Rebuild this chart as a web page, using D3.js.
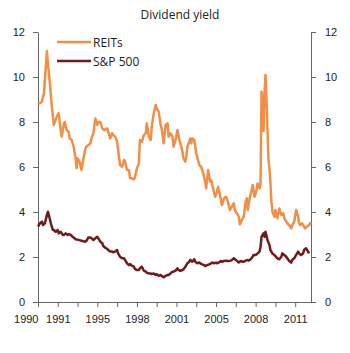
<!DOCTYPE html>
<html lang="en">
<head>
  <meta charset="UTF-8" />
  <title>Dividend yield</title>
  <script src="https://d3js.org/d3.v7.min.js"></script>
  <style>
    body { margin: 0; padding: 0; background: #fff; }
    svg { font-family: "Open Sans", sans-serif; }
    .axis text { font-size: 11px; fill: #222; }
    .axis path, .axis line { stroke: #666; }
  </style>
</head>
<body>
  <svg width="350" height="353"></svg>
  <script>
    // months since Jan 1990, dividend yield in percent
    const reitMonths = [0,4,5,6,9,10,12,14,16,17,19,21,22,24,26,27,29,31,32,34,36,38,39,40,42,44,46,48,49,51,53,54,56,58,60,61,63,65,67,70,71,73,75,76,78,80,81,83,85,87,88,90,92,93,95,97,98,100,102,103,105,107,109,110,112,114,115,117,119,120,122,124,125,127,129,131,132,134,136,137,139,141,143,145,146,147,149,150,151,154,155,156,158,160,163,165,167,169,170,172,174,175,177,179,181,182,184,186,188,190,192,194,196,198,199,201,203,204,207,208,210,211,212,214,216,217,219,221,222,224,225,226,227,228,229,230,231,232,233,234,235,236,237,239,240,242,244,246,248,249,251,252,254,256,257,259,261,263,264,265,267,269,270,272,274,275,276];
    const reitValues = [8.79,8.9,9.12,9.27,11.15,10.6,9.72,8.68,7.87,8.0,8.24,8.39,7.94,7.35,7.87,8.0,7.64,7.57,7.27,7.2,6.9,6.39,5.94,6.39,6.24,5.87,6.39,6.83,6.9,6.98,7.05,7.27,7.5,8.16,7.87,8.0,8.0,7.72,7.64,7.72,7.57,7.27,7.5,7.42,7.35,7.12,6.76,6.09,6.01,6.31,6.24,5.87,5.87,5.5,5.5,5.45,5.54,5.94,6.16,7.2,7.12,7.42,7.5,7.94,7.35,7.2,7.79,8.39,8.76,8.61,8.46,7.87,7.72,7.05,7.87,7.94,7.35,7.5,7.35,6.9,7.2,7.64,7.2,6.9,6.68,6.39,6.24,6.46,6.9,7.27,7.05,7.27,7.2,6.61,6.09,6.01,5.72,5.35,5.05,5.87,5.35,5.42,5.05,4.68,4.9,5.12,4.76,4.31,4.61,4.68,4.46,4.09,4.24,4.39,4.09,3.94,3.79,3.45,3.72,3.79,4.46,4.61,4.09,4.61,4.98,5.2,4.68,4.98,5.27,5.05,5.27,9.35,9.0,7.6,9.3,10.09,9.0,7.64,6.31,5.94,5.27,4.46,4.01,3.79,4.09,3.72,4.16,3.87,3.94,3.72,3.57,3.5,3.42,3.27,3.42,3.57,4.09,3.79,3.5,3.42,3.5,3.35,3.27,3.35,3.42,3.5,3.45];

    const spMonths = [0,2,4,5,7,9,10,11,13,15,16,18,20,21,23,25,26,28,30,31,33,35,37,38,41,44,48,49,51,53,54,56,58,60,61,63,65,66,68,70,71,73,75,76,78,80,81,83,85,87,88,90,92,93,95,97,98,100,102,103,105,107,109,110,112,114,115,117,119,120,122,124,125,127,129,131,132,134,136,137,139,141,142,144,146,147,149,151,153,154,156,158,159,161,163,164,166,168,169,171,173,175,176,178,180,181,183,185,186,188,190,191,193,195,196,198,200,202,203,205,207,208,210,212,213,215,217,218,220,222,224,225,226,228,229,230,232,234,235,237,239,240,242,244,246,247,249,251,252,254,256,257,259,261,263,264,266,268,269,271,273,274];
    const spValues = [3.35,3.5,3.57,3.42,3.5,3.87,4.01,3.87,3.5,3.2,3.2,3.12,3.2,3.05,3.12,2.98,2.98,3.05,2.98,3.02,2.98,2.9,2.83,2.79,2.76,2.72,2.68,2.72,2.87,2.87,2.83,2.76,2.83,2.9,2.83,2.68,2.61,2.49,2.41,2.36,2.31,2.24,2.24,2.21,2.24,2.31,2.16,2.01,1.94,1.94,1.87,1.72,1.64,1.69,1.61,1.57,1.47,1.42,1.42,1.5,1.57,1.39,1.35,1.3,1.27,1.27,1.24,1.27,1.2,1.24,1.16,1.2,1.16,1.1,1.16,1.2,1.2,1.27,1.35,1.35,1.39,1.5,1.42,1.39,1.42,1.45,1.57,1.72,1.79,1.87,1.79,1.9,1.79,1.72,1.76,1.72,1.67,1.64,1.6,1.64,1.67,1.72,1.75,1.72,1.75,1.72,1.76,1.82,1.79,1.82,1.84,1.82,1.82,1.84,1.87,1.94,1.87,1.79,1.76,1.82,1.79,1.79,1.84,1.87,1.84,1.9,2.01,2.09,2.09,2.16,2.24,2.46,2.9,3.05,2.9,3.12,2.76,2.53,2.31,2.16,2.09,2.04,1.94,1.9,2.01,2.16,2.09,2.01,1.94,1.82,1.75,1.87,1.94,2.09,2.24,2.16,2.09,2.16,2.31,2.39,2.24,2.16];

    const xTickMonths = d3.range(0, 261, 20);
    const xTickLabels = ["1990","1991","","1995","","1998","","2001","","2005","","2008","","2011"];
    const yTicks = [0, 2, 4, 6, 8, 10, 12];

    const seriesNames = ["REITs", "S&P 500"];
    const seriesColors = ["#f28e46", "#711c1c"];

    const series = [
      reitMonths.map((m, i) => [m, reitValues[i]]),
      spMonths.map((m, i) => [m, spValues[i]])
    ];

    const svg = d3.select("svg");
    const x = d3.scaleLinear().domain([0, 276]).range([38, 311]);
    const y = d3.scaleLinear().domain([0, 12]).range([302, 32]);

    svg.append("text")
      .attr("x", 180)
      .attr("y", 19)
      .attr("text-anchor", "middle")
      .attr("font-size", 12)
      .attr("fill", "#222")
      .text("Dividend yield");

    svg.append("g")
      .attr("class", "axis")
      .attr("transform", "translate(38,0)")
      .call(d3.axisLeft(y).tickValues(yTicks).tickSize(5).tickSizeOuter(0).tickPadding(8));

    svg.append("g")
      .attr("class", "axis")
      .attr("transform", "translate(311,0)")
      .call(d3.axisRight(y).tickValues(yTicks).tickSize(5).tickSizeOuter(0).tickPadding(9));

    const xAxis = svg.append("g")
      .attr("class", "axis")
      .attr("transform", "translate(0,302)")
      .call(d3.axisBottom(x).tickValues(xTickMonths).tickFormat((d, i) => xTickLabels[i])
        .tickSize(5).tickSizeOuter(0).tickPadding(8));

    // first year label sits to the left of the axis start
    xAxis.selectAll(".tick text")
      .filter((d, i) => i === 0)
      .attr("text-anchor", "end")
      .attr("x", 0);

    const line = d3.line().x(d => x(d[0])).y(d => y(d[1]));

    series.forEach((s, i) => {
      svg.append("path")
        .datum(s)
        .attr("fill", "none")
        .attr("stroke", seriesColors[i])
        .attr("stroke-width", 2.5)
        .attr("stroke-linejoin", "round")
        .attr("d", line);
    });

    const legend = svg.append("g").attr("transform", "translate(57,42)");
    seriesNames.forEach((name, i) => {
      const g = legend.append("g").attr("transform", `translate(0,${i * 19})`);
      g.append("line")
        .attr("x1", 0).attr("x2", 34)
        .attr("stroke", seriesColors[i])
        .attr("stroke-width", 2.5);
      g.append("text")
        .attr("x", 36)
        .attr("y", 4.5)
        .attr("font-size", 12)
        .attr("fill", "#222")
        .text(name);
    });
  </script>
</body>
</html>
